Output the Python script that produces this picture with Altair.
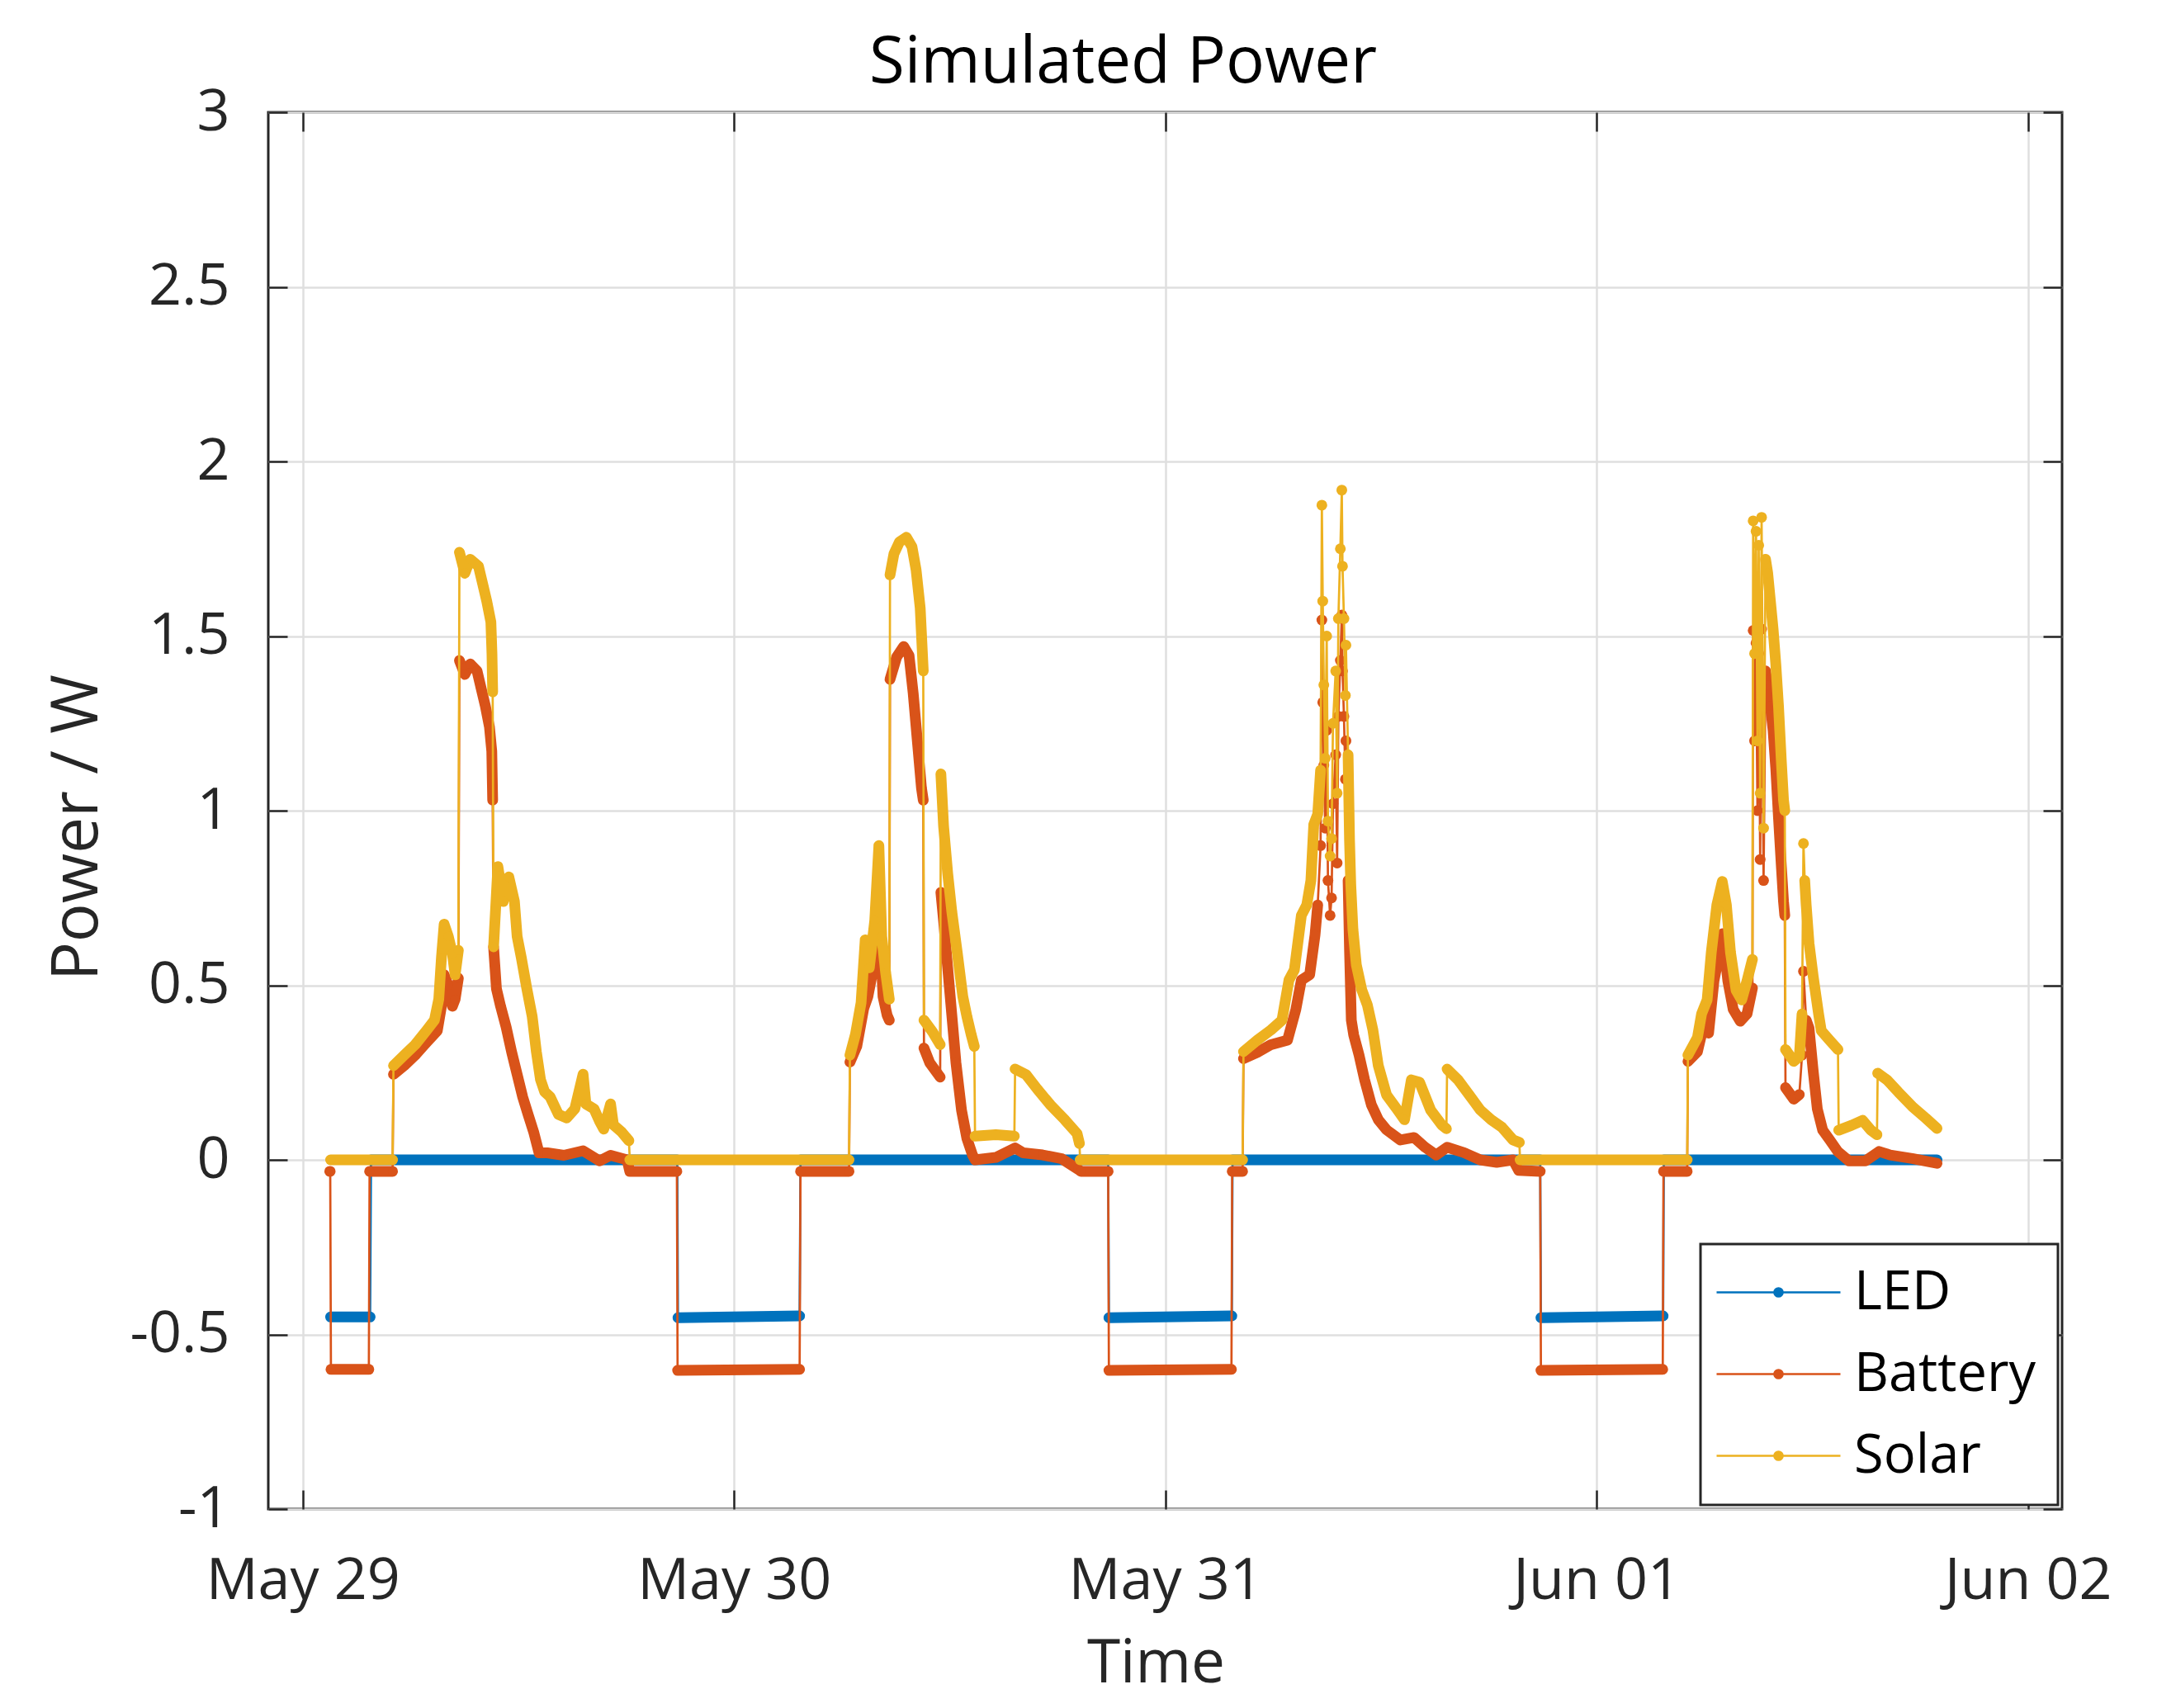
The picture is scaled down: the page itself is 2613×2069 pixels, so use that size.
import altair as alt
import pandas as pd

# ---------------- data (hours since May 29 00:00, power in W) ----------------
SERIES = ["LED", "Battery", "Solar"]
COLORS = ["#0072BD", "#D95319", "#EDB120"]

X_TICKS = [(5, 29), (5, 30), (5, 31), (6, 1), (6, 2)]
Y_TICKS = [-1, -0.5, 0, 0.5, 1, 1.5, 2, 2.5, 3]

LED_SEGMENTS = [
    [[1.55, -0.45], [3.75, -0.45]],
    [[3.80, 0.0], [20.84, 0.0]],
    [[20.88, -0.452], [27.65, -0.447]],
    [[27.70, 0.0], [44.82, 0.0]],
    [[44.86, -0.452], [51.70, -0.447]],
    [[51.74, 0.0], [68.86, 0.0]],
    [[68.90, -0.452], [75.70, -0.447]],
    [[75.74, 0.0], [90.94, 0.0]],
]

BATTERY_DAY1 = [
    [[1.50, -0.033], [1.53, -0.033]],
    [[1.57, -0.600], [3.68, -0.600]],
    [[3.72, -0.033], [5.00, -0.033]],
    [[5.05, 0.245], [5.65, 0.27], [6.26, 0.30], [6.88, 0.336], [7.49, 0.37], [7.72, 0.44],
     [7.87, 0.53], [8.10, 0.50], [8.33, 0.44], [8.48, 0.46], [8.66, 0.52]],
    [[8.72, 1.43], [9.02, 1.39], [9.32, 1.42], [9.70, 1.40], [9.93, 1.35], [10.16, 1.30],
     [10.39, 1.24], [10.52, 1.17], [10.57, 1.03]],
    [[10.62, 0.61], [10.78, 0.49], [11.01, 0.44], [11.32, 0.38], [11.62, 0.31], [11.93, 0.245],
     [12.24, 0.18], [12.54, 0.13], [12.85, 0.08], [13.15, 0.02], [13.61, 0.02], [14.53, 0.013],
     [15.60, 0.026], [16.52, -0.003], [17.13, 0.013], [18.05, 0.0], [18.20, -0.033], [20.82, -0.033]],
]
BATTERY_DAY2 = [
    [[20.86, -0.603], [27.65, -0.600]],
    [[27.70, -0.033], [30.40, -0.033]],
    [[30.45, 0.28], [30.83, 0.325], [31.22, 0.434], [31.45, 0.468], [31.76, 0.55], [32.06, 0.725],
     [32.29, 0.468], [32.52, 0.414], [32.64, 0.40]],
    [[32.68, 1.376], [33.05, 1.44], [33.44, 1.47], [33.74, 1.444], [33.97, 1.336], [34.20, 1.20],
     [34.43, 1.065], [34.53, 1.03]],
    [[34.57, 0.32], [34.89, 0.278], [35.47, 0.237]],
    [[35.51, 0.766], [35.66, 0.685], [35.89, 0.55], [36.12, 0.414], [36.35, 0.278], [36.66, 0.142],
     [36.96, 0.061], [37.27, 0.014], [37.42, 0.0], [38.57, 0.007], [39.64, 0.034], [40.10, 0.02],
     [41.17, 0.014], [42.24, 0.003], [43.15, -0.027], [43.30, -0.033], [44.82, -0.033]],
]
BATTERY_DAY3 = [
    [[44.86, -0.603], [51.68, -0.600]],
    [[51.72, -0.033], [52.30, -0.033]],
    [[52.35, 0.29], [53.12, 0.308], [53.88, 0.33], [54.80, 0.343], [55.26, 0.43], [55.57, 0.515],
     [56.03, 0.53], [56.33, 0.644], [56.48, 0.73]],
    [[56.64, 0.90]], [[56.71, 1.546]], [[56.76, 1.31]], [[56.82, 1.13]], [[56.90, 0.95]],
    [[56.98, 1.23]], [[57.05, 0.80]], [[57.17, 0.70]], [[57.25, 0.75]], [[57.33, 1.02]],
    [[57.48, 1.16]], [[57.56, 0.85]], [[57.63, 1.27]], [[57.74, 1.43]], [[57.82, 1.56]],
    [[57.86, 1.40]], [[57.94, 1.27]], [[58.02, 1.09]], [[58.05, 1.20]],
    [[58.17, 0.80], [58.25, 0.60], [58.35, 0.40], [58.48, 0.358], [58.78, 0.30], [59.09, 0.229],
     [59.47, 0.157], [59.85, 0.115], [60.31, 0.086], [61.08, 0.057], [61.84, 0.064], [62.46, 0.036],
     [63.07, 0.014], [63.68, 0.036], [64.60, 0.021], [65.52, 0.0], [66.44, -0.007], [67.35, 0.0],
     [67.66, -0.030], [68.86, -0.033]],
]
BATTERY_DAY4 = [
    [[68.90, -0.603], [75.68, -0.600]],
    [[75.72, -0.033], [77.04, -0.033]],
    [[77.08, 0.282], [77.61, 0.31], [77.92, 0.377], [78.23, 0.363], [78.53, 0.513], [78.84, 0.594],
     [79.02, 0.648], [79.30, 0.513], [79.60, 0.431], [79.99, 0.397], [80.37, 0.418], [80.67, 0.492]],
    [[80.71, 1.516]], [[80.79, 1.20]], [[80.87, 1.48]], [[80.95, 1.00]], [[81.02, 1.45]],
    [[81.10, 0.86]], [[81.18, 1.52]], [[81.29, 0.80]],
    [[81.40, 1.40], [81.52, 1.36], [81.67, 1.30], [81.82, 1.23], [81.97, 1.12], [82.12, 0.98],
     [82.28, 0.84], [82.40, 0.74], [82.47, 0.70]],
    [[82.51, 0.207], [82.97, 0.174], [83.28, 0.187]],
    [[83.43, 0.30]], [[83.51, 0.54]],
    [[83.66, 0.40], [83.82, 0.377], [84.05, 0.255], [84.28, 0.146], [84.58, 0.085], [84.96, 0.058],
     [85.42, 0.024], [86.04, -0.003], [86.95, -0.003], [87.72, 0.024], [88.33, 0.014],
     [89.56, 0.004], [90.94, -0.010]],
]

SOLAR_DAY1 = [
    [[1.55, 0.0], [5.00, 0.0]],
    [[5.05, 0.27], [5.65, 0.30], [6.26, 0.33], [6.88, 0.37], [7.33, 0.40], [7.57, 0.46], [7.72, 0.58],
     [7.87, 0.675], [8.10, 0.64], [8.33, 0.59], [8.48, 0.53], [8.66, 0.60]],
    [[8.72, 1.74], [9.02, 1.68], [9.32, 1.72], [9.78, 1.70], [10.01, 1.65], [10.24, 1.60],
     [10.47, 1.54], [10.53, 1.45], [10.57, 1.34]],
    [[10.62, 0.61], [10.86, 0.84], [11.16, 0.74], [11.47, 0.81], [11.78, 0.74], [11.93, 0.64],
     [12.16, 0.58], [12.47, 0.49], [12.77, 0.41], [13.00, 0.31], [13.23, 0.23], [13.46, 0.195],
     [13.77, 0.18], [14.23, 0.13], [14.69, 0.12], [15.14, 0.146], [15.60, 0.245], [15.76, 0.16],
     [16.21, 0.146], [16.52, 0.11], [16.75, 0.088], [17.13, 0.16], [17.29, 0.10], [17.74, 0.08],
     [18.15, 0.055]],
    [[18.20, 0.0], [30.40, 0.0]],
]
SOLAR_DAY2 = [
    [[30.45, 0.30], [30.76, 0.36], [31.07, 0.45], [31.30, 0.63], [31.53, 0.55], [31.83, 0.685],
     [32.06, 0.90], [32.22, 0.64], [32.44, 0.535], [32.64, 0.46]],
    [[32.68, 1.675], [32.90, 1.736], [33.21, 1.77], [33.59, 1.783], [33.90, 1.756], [34.13, 1.69],
     [34.36, 1.58], [34.53, 1.40]],
    [[34.57, 0.40], [35.05, 0.366], [35.47, 0.33]],
    [[35.51, 1.105], [35.66, 0.956], [35.89, 0.82], [36.12, 0.71], [36.43, 0.59], [36.73, 0.468],
     [36.96, 0.41], [37.19, 0.36], [37.37, 0.325]],
    [[37.41, 0.068], [38.57, 0.072], [39.60, 0.068]],
    [[39.64, 0.26], [40.25, 0.244], [40.87, 0.203], [41.63, 0.156], [42.40, 0.115], [43.09, 0.075],
     [43.22, 0.047]],
    [[43.26, 0.0], [52.30, 0.0]],
]
SOLAR_DAY3 = [
    [[52.35, 0.31], [53.12, 0.343], [53.88, 0.372], [54.49, 0.40], [54.88, 0.515], [55.18, 0.544],
     [55.57, 0.70], [55.87, 0.73], [56.10, 0.80], [56.26, 0.96], [56.48, 0.99], [56.64, 1.116]],
    [[56.71, 1.875]], [[56.76, 1.60]], [[56.82, 1.36]], [[56.90, 1.15]], [[56.98, 1.50]],
    [[57.05, 0.97]], [[57.17, 0.87]], [[57.25, 0.92]], [[57.33, 1.25]], [[57.48, 1.40]],
    [[57.56, 1.05]], [[57.63, 1.55]], [[57.74, 1.75]], [[57.82, 1.918]], [[57.86, 1.70]],
    [[57.94, 1.55]], [[58.02, 1.33]], [[58.05, 1.474]],
    [[58.17, 1.16], [58.25, 0.916], [58.32, 0.787], [58.44, 0.66], [58.63, 0.558], [58.93, 0.487],
     [59.24, 0.444], [59.55, 0.372], [59.85, 0.27], [60.31, 0.186], [60.92, 0.143], [61.31, 0.115],
     [61.69, 0.229], [62.15, 0.222], [62.76, 0.143], [63.38, 0.10], [63.64, 0.089]],
    [[63.68, 0.26], [64.29, 0.229], [64.91, 0.186], [65.52, 0.143], [66.13, 0.115], [66.74, 0.093],
     [67.35, 0.057], [67.70, 0.05]],
    [[67.74, 0.0], [77.04, 0.0]],
]
SOLAR_DAY4 = [
    [[77.08, 0.30], [77.61, 0.35], [77.84, 0.418], [78.15, 0.458], [78.38, 0.594], [78.69, 0.73],
     [78.99, 0.797], [79.22, 0.73], [79.45, 0.594], [79.76, 0.486], [80.07, 0.458], [80.37, 0.513],
     [80.67, 0.574]],
    [[80.71, 1.83]], [[80.79, 1.45]], [[80.87, 1.80]], [[80.95, 1.20]], [[81.02, 1.76]],
    [[81.10, 1.05]], [[81.18, 1.84]], [[81.29, 0.95]],
    [[81.40, 1.72], [81.52, 1.68], [81.67, 1.60], [81.82, 1.52], [81.97, 1.42], [82.12, 1.30],
     [82.28, 1.14], [82.40, 1.03], [82.47, 1.00]],
    [[82.51, 0.316], [82.97, 0.282], [83.28, 0.296], [83.43, 0.418]],
    [[83.51, 0.906]],
    [[83.58, 0.80], [83.66, 0.73], [83.82, 0.62], [84.05, 0.526], [84.35, 0.418], [84.50, 0.37],
     [84.96, 0.343], [85.43, 0.316]],
    [[85.47, 0.085], [86.19, 0.099], [86.80, 0.113], [87.26, 0.085], [87.60, 0.072]],
    [[87.64, 0.248], [88.18, 0.228], [88.79, 0.194], [89.56, 0.153], [90.32, 0.119], [90.94, 0.09]],
]

# ---------------- build tables ----------------
BASE = pd.Timestamp("2021-05-29 00:00:00")


def build(series, segments):
    rows = []
    for k, seg in enumerate(segments):
        for h, v in seg:
            rows.append({"series": series,
                         "t": (BASE + pd.Timedelta(hours=h)).round("s"),
                         "v": v, "seg": k})
    df = pd.DataFrame(rows)
    df["idx"] = range(len(df))
    return df


DATA = {
    "LED": build("LED", LED_SEGMENTS),
    "Battery": build("Battery", BATTERY_DAY1 + BATTERY_DAY2 + BATTERY_DAY3 + BATTERY_DAY4),
    "Solar": build("Solar", SOLAR_DAY1 + SOLAR_DAY2 + SOLAR_DAY3 + SOLAR_DAY4),
}

# ---------------- styling ----------------
FONT = "Open Sans"
INK = "#262626"
GRID = "#dfdfdf"
TICK = 23

x_scale = alt.Scale(domain=[alt.DateTime(year=2021, month=5, date=28, hours=22, minutes=5),
                            alt.DateTime(year=2021, month=6, date=2, hours=1, minutes=54)])
y_scale = alt.Scale(domain=[-1, 3], nice=False, zero=False)
x_values = [alt.DateTime(year=2021, month=m, date=d) for m, d in X_TICKS]

x_main_axis = alt.Axis(orient="bottom", values=x_values, format="%b %d", labelFont=FONT,
                       labelFontSize=70, labelColor=INK, labelPadding=53, labelAngle=0,
                       labelFlush=False, labelOverlap=False, labelLimit=0,
                       tickSize=TICK, offset=-TICK, tickColor=INK, tickWidth=2.5,
                       domain=False, grid=True, gridColor=GRID, gridWidth=2.5,
                       title="Time", titleFont=FONT, titleFontSize=73, titleFontWeight="normal",
                       titleColor=INK, titleX=1075, titleY=232, titleBaseline="alphabetic",
                       titleAlign="center", titleLimit=0)
y_main_axis = alt.Axis(orient="left", values=Y_TICKS,
                       labelExpr="datum.value < 0 ? '-' + format(-datum.value, '~g') : format(datum.value, '~g')",
                       labelFont=FONT, labelFontSize=70, labelColor=INK, labelPadding=47,
                       labelLimit=0,
                       tickSize=TICK, offset=-TICK, tickColor=INK, tickWidth=2.5,
                       domain=False, grid=True, gridColor=GRID, gridWidth=2.5,
                       title="Power / W", titleFont=FONT, titleFontSize=78, titleFontWeight="normal",
                       titleColor=INK, titleX=-231, titleY=866, titleAngle=270,
                       titleBaseline="alphabetic", titleAlign="center", titleLimit=0)
# top axis: inward ticks, carries the chart title
x_top_axis = alt.Axis(orient="top", values=x_values, labels=False, tickSize=TICK, offset=-TICK,
                      tickColor=INK, tickWidth=2.5, domain=False, grid=False,
                      title="Simulated Power", titleFont=FONT, titleFontSize=78,
                      titleFontWeight="normal", titleColor="#000000", titleX=1035, titleY=-60,
                      titleBaseline="alphabetic", titleAlign="center", titleLimit=0)
y_right_axis = alt.Axis(orient="right", values=Y_TICKS, labels=False, tickSize=TICK, offset=-TICK,
                        tickColor=INK, tickWidth=2.5, domain=False, grid=False)

# legend symbol: a line with a dot in the middle (dot made of concentric strokes)
SYMBOL = ("M-1.56,0L4.44,0"
          "M1.64,0A0.2,0.2,0,1,1,1.24,0A0.2,0.2,0,1,1,1.64,0"
          "M1.59,0A0.15,0.15,0,1,1,1.29,0A0.15,0.15,0,1,1,1.59,0"
          "M1.54,0A0.1,0.1,0,1,1,1.34,0A0.1,0.1,0,1,1,1.54,0"
          "M1.49,0A0.05,0.05,0,1,1,1.39,0A0.05,0.05,0,1,1,1.49,0")

LEGEND = alt.Legend(
    orient="bottom-right", offset=5, title=None,
    symbolType=SYMBOL, symbolSize=2500, symbolStrokeWidth=2.7, symbolOpacity=1,
    labelFont=FONT, labelFontSize=65, labelColor="#000000", labelOffset=95, labelLimit=0,
    padding=26, rowPadding=33, strokeColor=INK, fillColor="white",
)
color = alt.Color("series:N", scale=alt.Scale(domain=SERIES, range=COLORS), legend=LEGEND)

layers = []
for i, s in enumerate(SERIES):
    df = DATA[s]
    if i == 0:
        x_thin = alt.X("t:T", scale=x_scale, axis=x_main_axis)
        y_thin = alt.Y("v:Q", scale=y_scale, axis=y_main_axis)
        x_thick = alt.X("t:T", scale=x_scale, axis=x_top_axis)
        y_thick = alt.Y("v:Q", scale=y_scale, axis=y_right_axis, title=None)
    else:
        x_thin = x_thick = alt.X("t:T", scale=x_scale, axis=None)
        y_thin = y_thick = alt.Y("v:Q", scale=y_scale, axis=None)
    x_pt = alt.X("t:T", scale=x_scale, axis=None)
    y_pt = alt.Y("v:Q", scale=y_scale, axis=None)

    thin = alt.Chart(df).mark_line(strokeWidth=2.7).encode(
        x=x_thin, y=y_thin, color=color, order=alt.Order("idx:Q"))
    thick = alt.Chart(df).mark_line(strokeWidth=13, strokeCap="round", strokeJoin="round").encode(
        x=x_thick, y=y_thick, color=color, detail="seg:N", order=alt.Order("idx:Q"))
    pts = alt.Chart(df).mark_circle(size=133, opacity=1).encode(x=x_pt, y=y_pt, color=color)
    layers += [thin, thick, pts]

chart = alt.layer(*layers).resolve_axis(x="independent", y="independent").properties(
    width=2173, height=1692,
    padding={"left": 317, "top": 128, "right": 100, "bottom": 233},
    autosize=alt.AutoSizeParams(type="none"),
    background="white",
).configure_view(stroke=INK, strokeWidth=3).configure_legend(strokeWidth=3)

chart.save("out.html", embed_options={"renderer": "svg", "actions": False})
